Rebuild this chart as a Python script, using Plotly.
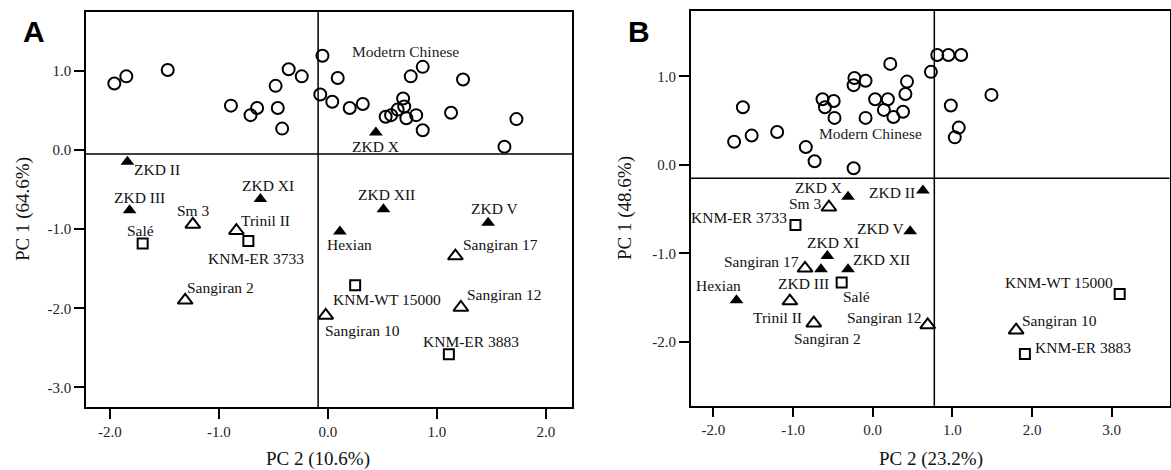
import plotly.graph_objects as go

# ---------------- Panel A data ----------------
a_modern_x = [-1.96, -1.85, -1.47, -0.89, -0.71, -0.65, -0.48, -0.46, -0.42, -0.36, -0.24,
              -0.05, -0.07, 0.04, 0.09, 0.20, 0.32, 0.53, 0.58, 0.64, 0.69, 0.70, 0.72,
              0.81, 0.87, 0.76, 0.87, 1.24, 1.13, 1.73, 1.62]
a_modern_y = [0.84, 0.93, 1.01, 0.56, 0.44, 0.53, 0.81, 0.53, 0.27, 1.02, 0.93,
              1.19, 0.70, 0.61, 0.91, 0.53, 0.58, 0.42, 0.44, 0.51, 0.65, 0.55, 0.40,
              0.44, 0.25, 0.93, 1.05, 0.89, 0.47, 0.39, 0.04]

a_zkd_names = ["ZKD II", "ZKD III", "ZKD XI", "ZKD X", "ZKD XII", "ZKD V", "Hexian"]
a_zkd_x = [-1.84, -1.82, -0.62, 0.44, 0.51, 1.47, 0.11]
a_zkd_y = [-0.15, -0.76, -0.62, 0.22, -0.75, -0.92, -1.03]

a_asia_names = ["Sm 3", "Trinil II", "Sangiran 2", "Sangiran 17", "Sangiran 10", "Sangiran 12"]
a_asia_x = [-1.24, -0.84, -1.31, 1.17, -0.02, 1.22]
a_asia_y = [-0.94, -1.02, -1.90, -1.34, -2.09, -1.99]

a_africa_names = ["Salé", "KNM-ER 3733", "KNM-WT 15000", "KNM-ER 3883"]
a_africa_x = [-1.70, -0.73, 0.25, 1.11]
a_africa_y = [-1.18, -1.15, -1.71, -2.58]

a_xticks = [-2, -1, 0, 1, 2]
a_xticklabels = ["-2.0", "-1.0", "0.0", "1.0", "2.0"]
a_yticks = [-3, -2, -1, 0, 1]
a_yticklabels = ["-3.0", "-2.0", "-1.0", "0.0", "1.0"]

# ---------------- Panel B data ----------------
b_modern_x = [-1.74, -1.63, -1.52, -1.20, -0.84, -0.73, -0.63, -0.60, -0.49, -0.48, -0.24,
              -0.23, -0.24, -0.09, -0.09, 0.03, 0.14, 0.19, 0.22, 0.26, 0.38, 0.41, 0.43,
              0.73, 0.81, 0.95, 1.11, 1.49, 0.98, 1.08, 1.03]
b_modern_y = [0.26, 0.65, 0.33, 0.37, 0.20, 0.04, 0.74, 0.65, 0.72, 0.53, -0.04,
              0.98, 0.90, 0.95, 0.53, 0.74, 0.62, 0.74, 1.14, 0.54, 0.60, 0.80, 0.94,
              1.05, 1.24, 1.24, 1.24, 0.79, 0.67, 0.42, 0.31]

b_zkd_names = ["ZKD X", "ZKD II", "ZKD V", "ZKD XI", "ZKD XII", "ZKD III", "Hexian"]
b_zkd_x = [-0.31, 0.63, 0.47, -0.57, -0.31, -0.65, -1.71]
b_zkd_y = [-0.36, -0.29, -0.75, -1.03, -1.18, -1.18, -1.53]

b_asia_names = ["Sm 3", "Sangiran 17", "Trinil II", "Sangiran 2", "Sangiran 12", "Sangiran 10"]
b_asia_x = [-0.55, -0.85, -1.04, -0.74, 0.69, 1.80]
b_asia_y = [-0.48, -1.17, -1.54, -1.79, -1.81, -1.87]

b_africa_names = ["KNM-ER 3733", "Salé", "KNM-WT 15000", "KNM-ER 3883"]
b_africa_x = [-0.97, -0.39, 3.10, 1.91]
b_africa_y = [-0.68, -1.33, -1.46, -2.14]

b_xticks = [-2, -1, 0, 1, 2, 3]
b_xticklabels = ["-2.0", "-1.0", "0.0", "1.0", "2.0", "3.0"]
b_yticks = [-2, -1, 0, 1]
b_yticklabels = ["-2.0", "-1.0", "0.0", "1.0"]

# ---------------- label placement (pixel offsets: anchor, dx, dy) ----------------
a_offsets = {
    "ZKD II": ("left", 5, -8), "ZKD III": ("center", 10, 13), "ZKD XI": ("center", 8, 14),
    "ZKD X": ("center", 0, -14), "ZKD XII": ("center", 3, 15), "ZKD V": ("center", 6, 14),
    "Hexian": ("center", 10, -13), "Sm 3": ("center", 1, 14), "Trinil II": ("left", 3, 10),
    "Sangiran 2": ("left", 0, 13), "Sangiran 17": ("left", 6, 12), "Sangiran 10": ("left", -3, -15),
    "Sangiran 12": ("left", 4, 13), "Salé": ("center", -2, 13), "KNM-ER 3733": ("center", 8, -17),
    "KNM-WT 15000": ("center", 32, -14), "KNM-ER 3883": ("center", 22, 13),
}
b_offsets = {
    "ZKD X": ("right", -4, 9), "ZKD II": ("right", -6, -2), "ZKD V": ("right", -4, 3),
    "ZKD XI": ("center", 6, 13), "ZKD XII": ("left", 3, 10), "ZKD III": ("center", -17, -14),
    "Hexian": ("center", -18, 15), "Sm 3": ("right", -5, 4), "Sangiran 17": ("right", -4, 7),
    "Trinil II": ("center", -12, -16), "Sangiran 2": ("center", 14, -15), "Sangiran 12": ("right", -5, 7),
    "Sangiran 10": ("left", 4, 10), "KNM-ER 3733": ("right", -6, 7), "Salé": ("center", 15, -14),
    "KNM-WT 15000": ("right", -5, 11), "KNM-ER 3883": ("left", 8, 7),
}

W, H = 1171, 470
SERIF = "Liberation Serif, Times New Roman, serif"

fig = go.Figure()

def add_panel(xa, ya, mx, my, zn, zx, zy, an, axx, ayy, fn, fx, fy, offsets, group_label, group_pos):
    xr, yr = "x" + ("" if xa == 1 else str(xa)), "y" + ("" if ya == 1 else str(ya))
    fig.add_trace(go.Scatter(x=mx, y=my, mode="markers", xaxis=xr, yaxis=yr,
                             marker=dict(symbol="circle-open", size=12, color="black", line=dict(width=2)),
                             showlegend=False, hoverinfo="skip"))
    fig.add_trace(go.Scatter(x=zx, y=zy, mode="markers", xaxis=xr, yaxis=yr,
                             marker=dict(symbol="triangle-up", size=12, color="black"),
                             showlegend=False, text=zn))
    fig.add_trace(go.Scatter(x=axx, y=ayy, mode="markers", xaxis=xr, yaxis=yr,
                             marker=dict(symbol="triangle-up-open", size=13, color="black", line=dict(width=2)),
                             showlegend=False, text=an))
    fig.add_trace(go.Scatter(x=fx, y=fy, mode="markers", xaxis=xr, yaxis=yr,
                             marker=dict(symbol="square-open", size=10, color="black", line=dict(width=2)),
                             showlegend=False, text=fn))
    for names, xs, ys in ((zn, zx, zy), (an, axx, ayy), (fn, fx, fy)):
        for n, x, y in zip(names, xs, ys):
            anc, dx, dy = offsets[n]
            fig.add_annotation(x=x, y=y, xref=xr, yref=yr, text=n, showarrow=False,
                               xanchor=anc, yanchor="middle", xshift=dx, yshift=dy,
                               font=dict(family=SERIF, size=15.5, color="#111"))
    fig.add_annotation(x=group_pos[0], y=group_pos[1], xref=xr, yref=yr, text=group_label,
                       showarrow=False, xanchor="center", yanchor="middle",
                       font=dict(family=SERIF, size=15.5, color="#222"))

add_panel(1, 1, a_modern_x, a_modern_y, a_zkd_names, a_zkd_x, a_zkd_y,
          a_asia_names, a_asia_x, a_asia_y, a_africa_names, a_africa_x, a_africa_y,
          a_offsets, "Modetrn Chinese", (0.71, 1.24))
add_panel(2, 2, b_modern_x, b_modern_y, b_zkd_names, b_zkd_x, b_zkd_y,
          b_asia_names, b_asia_x, b_asia_y, b_africa_names, b_africa_x, b_africa_y,
          b_offsets, "Modern Chinese", (-0.03, 0.35))

# reference (centroid) lines
a_hline, a_vline = -0.05, -0.09
b_hline, b_vline = -0.153, 0.773
for xr, yr, hv, vv in (("x", "y", a_hline, a_vline), ("x2", "y2", b_hline, b_vline)):
    fig.add_shape(type="line", xref=xr + " domain", yref=yr, x0=0, x1=1, y0=hv, y1=hv,
                  line=dict(color="black", width=1.5))
    fig.add_shape(type="line", xref=xr, yref=yr + " domain", x0=vv, x1=vv, y0=0, y1=1,
                  line=dict(color="black", width=1.5))

def px2paper_x(p): return p / W
def px2paper_y(p): return 1 - p / H

axis_common = dict(showgrid=False, zeroline=False, showline=True, linecolor="black", linewidth=1.5,
                   mirror=True, ticks="outside", ticklen=10, tickwidth=1.5, tickcolor="black",
                   tickfont=dict(family=SERIF, size=15, color="#222"))

fig.update_layout(
    width=W, height=H, margin=dict(l=0, r=0, t=0, b=0),
    paper_bgcolor="white", plot_bgcolor="white", hovermode="closest",
    xaxis=dict(domain=[px2paper_x(86), px2paper_x(572)], range=[-2.22, 2.24],
               tickvals=a_xticks, ticktext=a_xticklabels, anchor="y", **axis_common),
    yaxis=dict(domain=[px2paper_y(407), px2paper_y(12)], range=[-3.247, 1.743],
               tickvals=a_yticks, ticktext=a_yticklabels, anchor="x", **axis_common),
    xaxis2=dict(domain=[px2paper_x(690.7), px2paper_x(1169.5)], range=[-2.285, 3.725],
                tickvals=b_xticks, ticktext=b_xticklabels, anchor="y2", **axis_common),
    yaxis2=dict(domain=[px2paper_y(405.7), px2paper_y(11)], range=[-2.723, 1.738],
                tickvals=b_yticks, ticktext=b_yticklabels, anchor="x2", **axis_common),
)

titles = [
    ("PC 2 (10.6%)", 318, 459, 0), ("PC 1 (64.6%)", 23, 209, -90),
    ("PC 2 (23.2%)", 931, 459, 0), ("PC 1 (48.6%)", 625, 208, -90),
]
for t, x, y, ang in titles:
    fig.add_annotation(x=px2paper_x(x), y=px2paper_y(y), xref="paper", yref="paper", text=t,
                       showarrow=False, textangle=ang, xanchor="center", yanchor="middle",
                       font=dict(family=SERIF, size=19, color="#111"))

for t, x, y in (("A", 34, 31), ("B", 639, 31)):
    fig.add_annotation(x=px2paper_x(x), y=px2paper_y(y), xref="paper", yref="paper",
                       text="<b>" + t + "</b>", showarrow=False, xanchor="center", yanchor="middle",
                       font=dict(family="Liberation Sans, Arial, sans-serif", size=30, color="black"))

# remove the default 8px page margin so the 1171x470 figure fills the window exactly
fig.write_html("out.html", config={"displayModeBar": False},
               post_script="document.body.style.margin='0';document.body.style.overflow='hidden';")
